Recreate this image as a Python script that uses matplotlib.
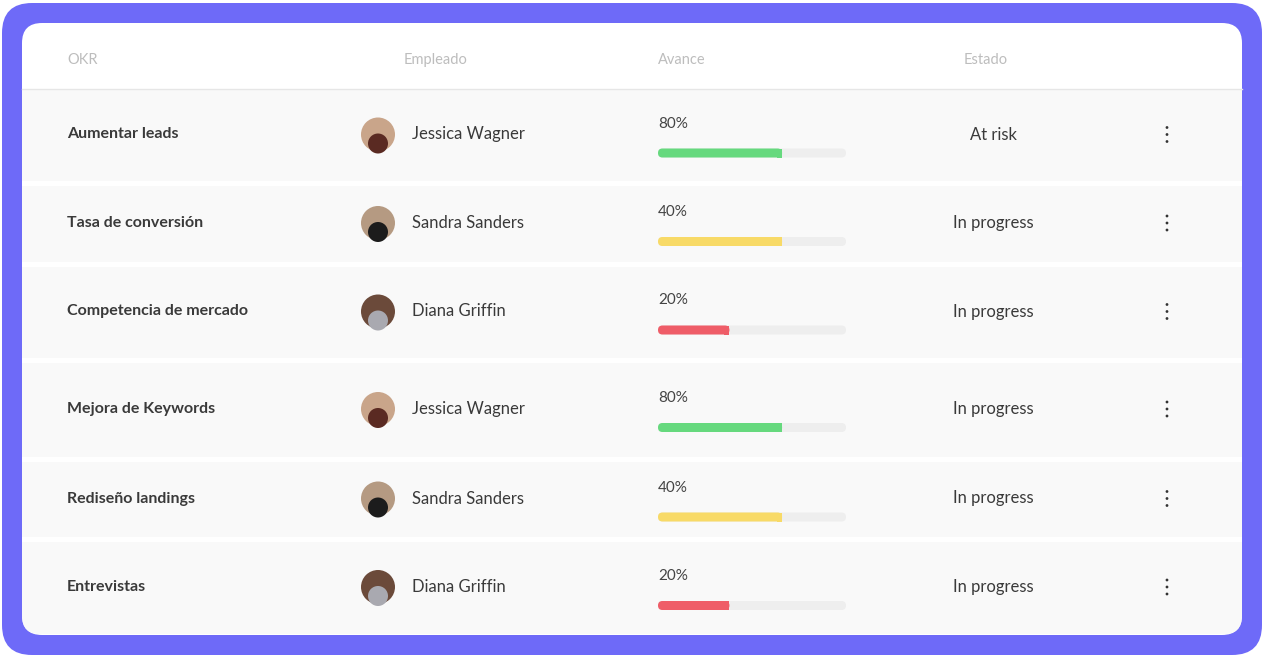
import matplotlib.pyplot as plt
from matplotlib.patches import FancyBboxPatch, Circle, Rectangle

okrs = ["Aumentar leads", "Tasa de conversión", "Competencia de mercado",
        "Mejora de Keywords", "Rediseño landings", "Entrevistas"]
employees = ["Jessica Wagner", "Sandra Sanders", "Diana Griffin",
             "Jessica Wagner", "Sandra Sanders", "Diana Griffin"]
progress_labels = ["80%", "40%", "20%", "80%", "40%", "20%"]
# fraction of the track that is filled, as drawn
bar_fill = [0.66, 0.66, 0.38, 0.66, 0.66, 0.38]
bar_colors = ["#66D97E", "#F8DA67", "#EF5D68", "#66D97E", "#F8DA67", "#EF5D68"]
statuses = ["At risk", "In progress", "In progress", "In progress", "In progress", "In progress"]
headers = ["OKR", "Empleado", "Avance", "Estado"]

row_bands = [(90, 181), (186, 262), (267, 358), (363, 457), (462, 537), (542, 634)]
avatar_colors = {"Jessica Wagner": ("#c9a58a", "#5a2a22"),
                 "Sandra Sanders": ("#b59a82", "#1c1c1c"),
                 "Diana Griffin": ("#6b4a3a", "#a9a9b0")}

plt.rcParams["font.family"] = "Lato"
fig = plt.figure(figsize=(12.65, 6.58), dpi=100)
ax = fig.add_axes([0, 0, 1, 1])
ax.set_xlim(0, 1265)
ax.set_ylim(658, 0)
ax.axis("off")

ax.add_patch(FancyBboxPatch((2, 3), 1260, 652, boxstyle="round,pad=0,rounding_size=30",
                            fc="#6E6AF8", ec="none"))
ax.add_patch(FancyBboxPatch((22, 23), 1220, 612, boxstyle="round,pad=0,rounding_size=20",
                            fc="white", ec="none"))

for txt, x, ha in zip(headers, [67, 404, 658, 964], ["left"] * 4):
    ax.text(x, 60, txt, fontsize=10.5, color="#BDBDBD", ha=ha, va="center")
ax.plot([22, 1242], [88.5, 88.5], color="#E6E6E6", lw=1)

for i, (y0, y1) in enumerate(row_bands):
    if i == len(row_bands) - 1:
        ax.add_patch(FancyBboxPatch((22, y0), 1220, y1 - y0,
                                    boxstyle="round,pad=0,rounding_size=18",
                                    fc="#F9F9F9", ec="none"))
        ax.add_patch(Rectangle((22, y0), 1220, 20, fc="#F9F9F9", ec="none"))
    else:
        ax.add_patch(Rectangle((22, y0), 1220, y1 - y0, fc="#F9F9F9", ec="none"))
    cy = (y0 + y1) / 2 - 1
    ax.text(67, cy, okrs[i], fontsize=11.5, fontweight="bold", color="#3A3A3A", va="center")
    bg, fg = avatar_colors[employees[i]]
    ax.add_patch(Circle((378, cy), 17, fc=bg, ec="none"))
    ax.add_patch(Circle((378, cy + 9), 10, fc=fg, ec="none"))
    ax.text(412, cy, employees[i], fontsize=12, color="#3A3A3A", va="center")
    ax.text(658, cy - 11, progress_labels[i], fontsize=11, color="#444444", va="center")
    ax.add_patch(FancyBboxPatch((658, cy + 14), 188, 9, boxstyle="round,pad=0,rounding_size=4.5",
                                fc="#EEEEEE", ec="none"))
    ax.add_patch(FancyBboxPatch((658, cy + 14), 188 * bar_fill[i], 9,
                                boxstyle="round,pad=0,rounding_size=4.5",
                                fc=bar_colors[i], ec="none"))
    ax.add_patch(Rectangle((658 + 188 * bar_fill[i] - 5, cy + 14), 5, 9, fc=bar_colors[i], ec="none"))
    ax.text(993, cy, statuses[i], fontsize=12, color="#3A3A3A", va="center", ha="center")
    for dy in (-7, 0, 7):
        ax.add_patch(Circle((1167, cy + dy), 1.4, fc="#333333", ec="none"))

fig.savefig("out.png", dpi=100)
